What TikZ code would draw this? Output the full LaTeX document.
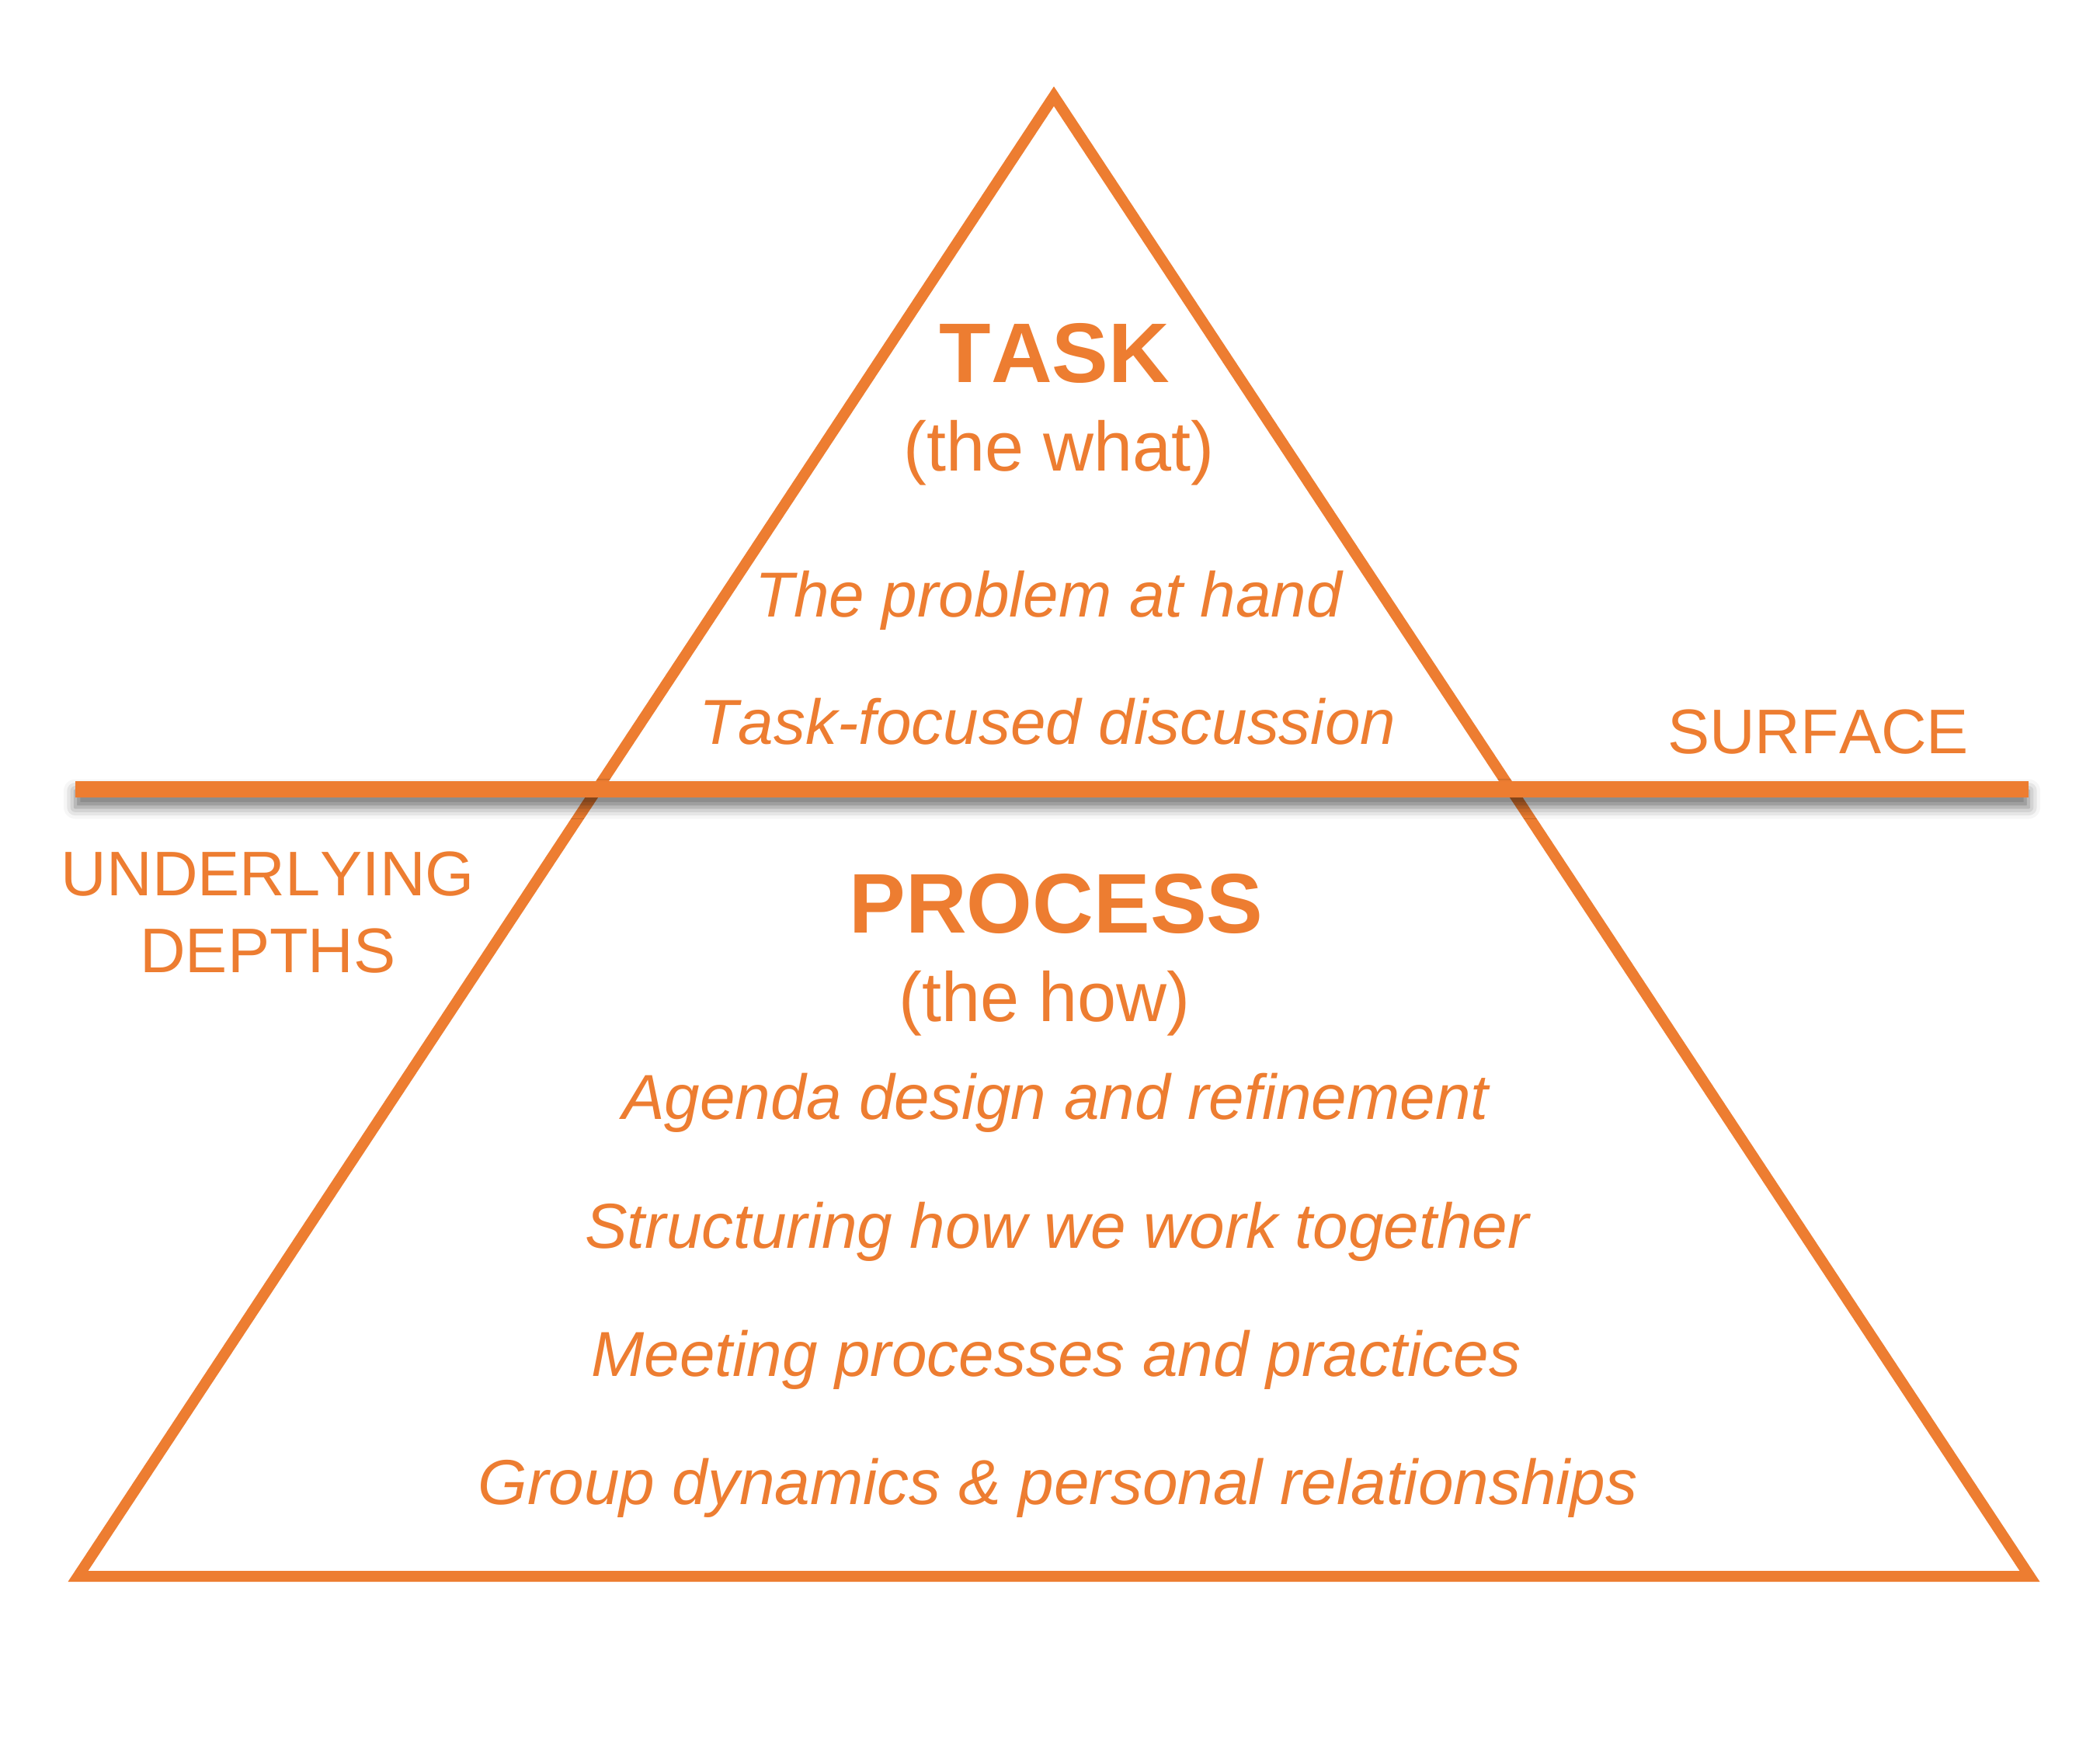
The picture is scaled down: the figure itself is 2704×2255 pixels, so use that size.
\documentclass[tikz,border=0pt]{standalone}
\usepackage{xcolor}
\usepackage{tikz}
\usepackage{fontspec}
\setmainfont[Kerning=Off]{Liberation Sans}
\usetikzlibrary{shadows.blur}
\definecolor{pyramidorange}{HTML}{ED7D31}

\begin{document}
\begin{tikzpicture}[x=0.1mm, y=-0.1mm,
  every node/.style={text=pyramidorange, inner sep=0pt},
  heading/.style={font=\fontsize{31}{37}\selectfont\bfseries, anchor=base},
  subheading/.style={font=\fontsize{25.6}{30}\selectfont, anchor=base},
  item/.style={font=\fontsize{23.3}{28}\selectfont\itshape, anchor=base},
  sidelabel/.style={font=\fontsize{23.1}{28}\selectfont, anchor=base}]
  \useasboundingbox (0,0) rectangle (2704,2255);
  % Pyramid outline
  \draw[pyramidorange, line width=1.4mm] (1357,124) -- (2613.5,2030) -- (100.5,2030) -- cycle;
  % Surface line with its shadow
  \fill[pyramidorange, blur shadow={shadow xshift=0mm, shadow yshift=-1.3mm,
    shadow blur radius=1.5mm, shadow opacity=55}] (97,1005.5) rectangle (2612,1026.5);
  % Task (above the surface)
  \node[heading] (task) at (1358,492) {TASK};
  \node[subheading] (what) at (1364,606) {(the what)};
  \node[item] (problem) at (1350,794) {The problem at hand};
  \node[item] (discussion) at (1349,958) {Task-focused discussion};
  % Side labels
  \node[sidelabel] (surface) at (2341,970) {SURFACE};
  \node[sidelabel] (underlying) at (345,1153) {UNDERLYING};
  \node[sidelabel] (depths) at (345,1252) {DEPTHS};
  % Process (below the surface)
  \node[heading] (process) at (1360,1201) {PROCESS};
  \node[subheading] (how) at (1345,1315) {(the how)};
  \node[item] (agenda) at (1359,1441) {Agenda design and refinement};
  \node[item] (structuring) at (1361,1607) {Structuring how we work together};
  \node[item] (meeting) at (1360,1772) {Meeting processes and practices};
  \node[item] (dynamics) at (1362,1937) {Group dynamics \& personal relationships};
\end{tikzpicture}
\end{document}
